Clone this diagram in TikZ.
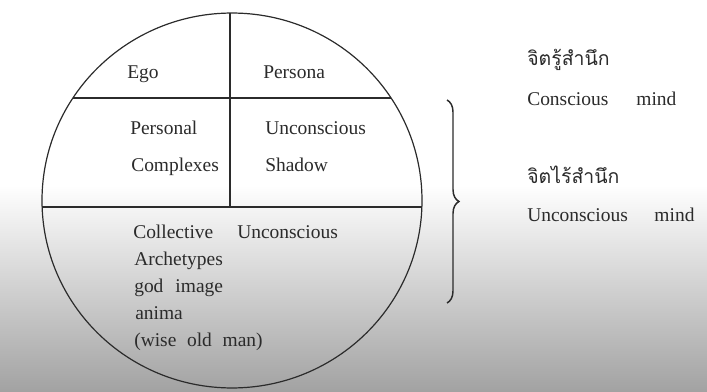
\documentclass[tikz,border=0pt]{standalone}
\usepackage{fontspec}
\setmainfont{Liberation Serif}
\newfontfamily\thaifont[Script=Thai]{Loma}
\usetikzlibrary{decorations.pathreplacing,positioning}
\definecolor{inkgray}{HTML}{2B2B2B}
\definecolor{paper}{HTML}{A2A2A2}

\begin{document}
\begin{tikzpicture}[x=0.75pt,y=-0.75pt,
  rim/.style={draw=inkgray, line width=0.9pt},
  lbl/.style={anchor=mid west, inner sep=0pt, text=inkgray,
              font=\fontsize{14.6}{17}\selectfont},
  thai/.style={lbl, font=\thaifont\fontsize{14.6}{17}\selectfont},
  brc/.style={draw=inkgray, line width=1.1pt, decorate,
              decoration={brace, amplitude=9pt}}
]
\useasboundingbox (0,0) rectangle (707,392);
% page shading
\shade[top color=white, bottom color=paper] (0,185) rectangle (707,392);
% the psyche circle and its parts
\begin{scope}
  \clip (232,200.5) ellipse [x radius=142.5pt, y radius=140.6pt];
  \draw[rim] (30,98) -- (440,98);
  \draw[rim] (30,207) -- (440,207);
  \draw[rim] (230,0) -- (230,207);
\end{scope}
\draw[rim] (232,200.5) ellipse [x radius=142.5pt, y radius=140.6pt];
\node[lbl] (ego) at (127,75) {Ego};
\node[lbl] (persona) at (263,75) {Persona};
\node[lbl] (personal) at (130,131) {Personal};
\node[lbl] (complexes) at (131,168) {Complexes};
\node[lbl] (unconsc) at (265,131) {Unconscious};
\node[lbl] (shadow) at (265,168) {Shadow};
\node[lbl] (collective) at (133,235) {Collective\hspace{18pt}Unconscious};
\node[lbl] (archetypes) at (134,262) {Archetypes};
\node[lbl] (godimage) at (134,289) {god\hspace{9pt}image};
\node[lbl] (anima) at (135,316) {anima};
\node[lbl] (wiseman) at (134,343) {(wise\hspace{8pt}old\hspace{8pt}man)};
% brace and the two levels of mind
\coordinate (bracetop) at (447,100);
\coordinate (bracebot) at (447,303);
\draw[brc] (bracetop) -- (bracebot);
\node[thai] (consth) at (527,62) {จิตรู้สำนึก};
\node[lbl] (consen) at (527,102) {Conscious\hspace{21pt}mind};
\node[thai] (unconth) at (527,180) {จิตไร้สำนึก};
\node[lbl] (unconen) at (527,218) {Unconscious\hspace{20pt}mind};
\end{tikzpicture}
\end{document}
